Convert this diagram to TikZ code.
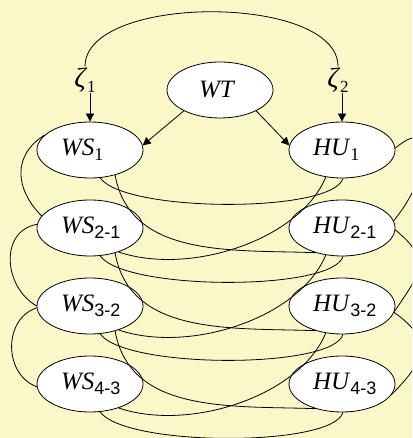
\documentclass[tikz,border=0pt]{standalone}
\usepackage{fontspec}
\setmainfont{Liberation Serif}
\newfontfamily\subsans{Liberation Sans}
\usetikzlibrary{shapes.geometric,arrows.meta}
\definecolor{paper}{RGB}{250,248,200}
% variable name with a serif subscript / a sans subscript
\newcommand{\vlab}[2]{\textit{#1}\raisebox{-5pt}{\fontsize{18}{18}\selectfont\upshape #2}}
\newcommand{\vlabs}[2]{\textit{#1}\raisebox{-5pt}{\fontsize{18}{18}\selectfont\subsans #2}}
\newcommand{\zlab}[1]{\textit{ζ}\raisebox{-5pt}{\fontsize{17}{17}\selectfont\upshape #1}}

\begin{document}
\begin{tikzpicture}[x=1pt,y=1pt,
  var/.style={ellipse, draw, fill=white, line width=0.8pt,
    minimum width=106pt, minimum height=56pt, inner sep=0pt,
    text width=58pt, align=left, font=\fontsize{25}{29}\selectfont},
  zeta/.style={inner sep=1pt, font=\fontsize{28}{32}\selectfont},
  link/.style={line width=0.8pt},
  arr/.style={line width=0.8pt, -{Triangle[length=8pt,width=8pt]}}]

\useasboundingbox (0,0) rectangle (412,438);
\clip (0,0) rectangle (412,438);
\fill[paper] (0,0) rectangle (412,438);

% nodes
\node[var, text width=42pt] (wt) at (220,348) {\textit{WT}};
\node[zeta] (z1) at (85,358) {\zlab{1}};
\node[zeta] (z2) at (338,358) {\zlab{2}};

\node[var] (w1) at (90,288) {\vlab{WS}{1}};
\node[var] (w2) at (90,210) {\vlabs{WS}{2-1}};
\node[var] (w3) at (90,132) {\vlabs{WS}{3-2}};
\node[var] (w4) at (90,54)  {\vlabs{WS}{4-3}};

\node[var] (h1) at (342,288) {\vlab{HU}{1}};
\node[var] (h2) at (342,210) {\vlabs{HU}{2-1}};
\node[var] (h3) at (342,132) {\vlabs{HU}{3-2}};
\node[var] (h4) at (342,54)  {\vlabs{HU}{4-3}};

% disturbance arc and arrows
\draw[link] (z1.north) .. controls +(0,73) and +(0,73) .. (z2.north);
\draw[arr] (z1.south -| w1.north) -- (w1.north);
\draw[arr] (z2.south -| h1.north) -- (h1.north);
\draw[arr] (wt.210) -- (w1.5);
\draw[arr] (wt.-30) -- (h1.175);

% same-wave covariances
\foreach \i in {1,2,3,4}{
  \draw[link] (w\i.-70) .. controls +(25,-35) and +(-10,-35) .. (h\i.-88);
}
% cross-lagged covariances
\foreach \i/\j in {1/2,2/3,3/4}{
  \draw[link] (w\i.-45) .. controls +(15,-83) and +(-84,3) .. (h\j.-137);
  \draw[link] (h\i.-121) .. controls +(-26,-63) and +(71,-24) .. (w\j.-40);
}

% covariances between adjacent waves, left side
\draw[link] (w1.162) to[out=212,in=135,looseness=1.2] (w2.166);
\draw[link] (w2.176) to[out=190,in=150,looseness=1.2] (w3.180);
\draw[link] (w3.182) to[out=198,in=160,looseness=1.15] (w4.183);

% covariances between adjacent waves, right side
\draw[link] (h1.2) to[out=40,in=50,looseness=2] (h2.8);
\draw[link] (h2.-2) to[out=-40,in=56,looseness=1.5] (h3.-6);
\draw[link] (h3.-7) to[out=-35,in=45,looseness=1.5] (h4.-12);
\end{tikzpicture}
\end{document}
